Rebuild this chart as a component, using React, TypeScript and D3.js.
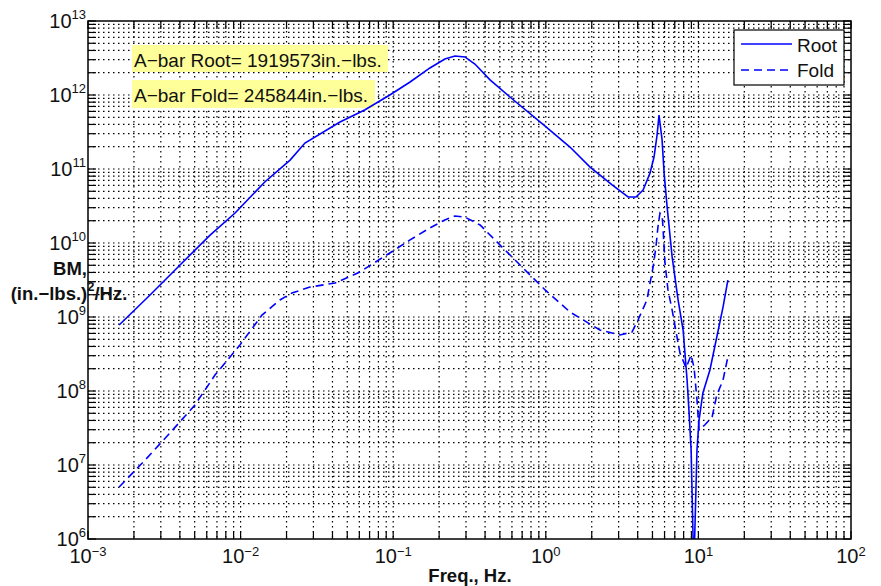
import React from "react";
import * as d3 from "d3";

const rootFreq = [1.6e-3, 2.55e-3, 4.01e-3, 6.31e-3, 9.2e-3, 1.44e-2, 2.11e-2, 2.64e-2, 4.48e-2, 6.5e-2, 9.5e-2, 0.129, 0.174, 0.218, 0.254, 0.295, 0.343, 0.431, 0.582, 0.99, 1.44, 1.95, 2.72, 3.46, 3.9, 4.34, 4.82, 5.12, 5.36, 5.52, 5.78, 5.96, 6.24, 6.73, 7.36, 7.94, 8.43, 8.69, 8.96, 9.23, 9.37, 9.79, 10.1, 10.7, 11.9, 13.2, 14.5, 15.6];
const rootBM = [7.8e8, 1.98e9, 5.05e9, 1.28e10, 2.54e10, 6.67e10, 1.32e11, 2.24e11, 4.32e11, 6.27e11, 1.0e12, 1.5e12, 2.32e12, 3.06e12, 3.37e12, 3.27e12, 2.62e12, 1.6e12, 9.4e11, 3.81e11, 1.98e11, 1.06e11, 6.08e10, 4.19e10, 4.19e10, 5.2e10, 8.83e10, 1.45e11, 2.88e11, 5.37e11, 2.47e11, 8.83e10, 3.06e10, 6.47e9, 1.7e9, 6.67e8, 1.41e8, 5.05e7, 1.6e7, 1.0e6, 5.2e5, 1.6e7, 4.06e7, 9.4e7, 1.92e8, 5.37e8, 1.36e9, 3.16e9];

const foldFreq = [1.6e-3, 2.37e-3, 3.44e-3, 5.02e-3, 6.79e-3, 9.9e-3, 1.38e-2, 1.81e-2, 2.17e-2, 2.85e-2, 4.16e-2, 6.05e-2, 9.5e-2, 0.129, 0.174, 0.218, 0.254, 0.295, 0.371, 0.501, 0.678, 0.99, 1.44, 2.26, 3.06, 3.67, 4.02, 4.6, 4.82, 5.05, 5.27, 5.43, 5.6, 5.78, 5.86, 6.04, 6.32, 6.73, 7.24, 7.57, 8.3, 8.96, 9.37, 9.79, 10.1, 11.0, 12.3, 13.2, 14.5, 15.6];
const foldBM = [5.05e6, 1.17e7, 2.7e7, 6.47e7, 1.64e8, 4.19e8, 1.06e9, 1.7e9, 2.11e9, 2.54e9, 2.88e9, 4.06e9, 7.33e9, 1.1e10, 1.6e10, 2.05e10, 2.32e10, 2.24e10, 1.75e10, 9.4e9, 5.05e9, 2.32e9, 1.17e9, 6.67e8, 5.71e8, 6.27e8, 9.1e8, 1.7e9, 2.88e9, 4.74e9, 8.83e9, 1.64e10, 2.54e10, 2.39e10, 1.64e10, 5.37e9, 2.32e9, 1.24e9, 5.37e8, 3.27e8, 2.05e8, 3.06e8, 2.05e8, 7.55e7, 2.97e7, 3.47e7, 4.46e7, 8.83e7, 1.41e8, 2.88e8];

const xTickExps = [-3, -2, -1, 0, 1, 2];
const yTickExps = [6, 7, 8, 9, 10, 11, 12, 13];
const legendLabels = ["Root", "Fold"];
const annotations = ["A\u2212bar Root= 1919573in.\u2212lbs.", "A\u2212bar Fold= 245844in.\u2212lbs."];

const W = 881, H = 586;
const L = 88, R = 851, T = 21, B = 539;
const FONT = "'Liberation Sans', Arial, Helvetica, sans-serif";

export default function App() {
  const x = d3.scaleLog().domain([1e-3, 1e2]).range([L, R]);
  const y = d3.scaleLog().domain([1e6, 1e13]).range([B, T]);
  const xt = x.ticks();
  const yt = y.ticks();

  const line = d3.line<[number, number]>().x(d => x(d[0])).y(d => y(d[1]));
  const rootPts = rootFreq.map((f, i) => [f, rootBM[i]] as [number, number]);
  const foldPts = foldFreq.map((f, i) => [f, foldBM[i]] as [number, number]);

  const tickLen = 8;

  return (
    <svg width={W} height={H} style={{ position: "absolute", left: 0, top: 0, background: "#fff" }} fontFamily={FONT}>
      <defs>
        <clipPath id="plotClip">
          <rect x={L} y={T} width={R - L} height={B - T} />
        </clipPath>
      </defs>
      <rect x={0} y={0} width={W} height={H} fill="#fff" />
      {/* grid */}
      <g stroke="#000" strokeWidth={1.2} strokeDasharray="1.5,3.5">
        {xt.filter(v => x(v) > L + 0.5 && x(v) < R - 0.5).map((v, i) => (
          <line key={"gx" + i} x1={x(v)} x2={x(v)} y1={T} y2={B} />
        ))}
        {yt.filter(v => y(v) > T + 0.5 && y(v) < B - 0.5).map((v, i) => (
          <line key={"gy" + i} x1={L} x2={R} y1={y(v)} y2={y(v)} />
        ))}
      </g>
      {/* ticks */}
      <g stroke="#000" strokeWidth={1.2}>
        {xt.map((v, i) => (
          <g key={"tx" + i}>
            <line x1={x(v)} x2={x(v)} y1={B} y2={B - tickLen} />
            <line x1={x(v)} x2={x(v)} y1={T} y2={T + tickLen} />
          </g>
        ))}
        {yt.map((v, i) => (
          <g key={"ty" + i}>
            <line x1={L} x2={L + tickLen} y1={y(v)} y2={y(v)} />
            <line x1={R} x2={R - tickLen} y1={y(v)} y2={y(v)} />
          </g>
        ))}
      </g>
      {/* annotations */}
      <rect x={132} y={45} width={256} height={27} fill="#ffff99" />
      <text x={134} y={67} fontSize={19} fill="#111">{annotations[0]}</text>
      <rect x={132} y={80} width={243} height={28} fill="#ffff99" />
      <text x={134} y={102} fontSize={19} fill="#111">{annotations[1]}</text>
      {/* data */}
      <g clipPath="url(#plotClip)" fill="none" stroke="#0000ff" strokeWidth={1.6}>
        <path d={line(rootPts) || ""} />
        <path d={line(foldPts) || ""} strokeDasharray="8,5" />
      </g>
      {/* box */}
      <rect x={L} y={T} width={R - L} height={B - T} fill="none" stroke="#000" strokeWidth={1.5} />
      {/* x tick labels */}
      {xTickExps.map(e => (
        <text key={"xl" + e} x={x(Math.pow(10, e))} y={563} fontSize={20} textAnchor="middle" fill="#111">
          10<tspan dy={-7} fontSize={13}>{e < 0 ? "\u2212" + Math.abs(e) : String(e)}</tspan>
        </text>
      ))}
      {/* y tick labels */}
      {yTickExps.map(e => (
        <text key={"yl" + e} x={86} y={y(Math.pow(10, e)) + 7} fontSize={20} textAnchor="end" fill="#111">
          10<tspan dy={-9} fontSize={13}>{String(e)}</tspan>
        </text>
      ))}
      {/* axis labels */}
      <text x={470} y={582} fontSize={18.5} fontWeight="bold" textAnchor="middle" fill="#111">Freq., Hz.</text>
      <text x={70} y={275} fontSize={18.5} fontWeight="bold" textAnchor="middle" fill="#111">BM,</text>
      <text x={69} y={300} fontSize={18.5} fontWeight="bold" textAnchor="middle" fill="#111">
        (in.{"\u2212"}lbs.)<tspan dy={-9} fontSize={13}>2</tspan><tspan dy={9}>/Hz.</tspan>
      </text>
      {/* legend */}
      <rect x={734} y={30} width={110} height={55} fill="#fff" stroke="#000" strokeWidth={1.2} />
      <line x1={741} x2={792} y1={44} y2={44} stroke="#0000ff" strokeWidth={1.6} />
      <text x={797} y={52} fontSize={19} fill="#111">{legendLabels[0]}</text>
      <line x1={741} x2={792} y1={70} y2={70} stroke="#0000ff" strokeWidth={1.6} strokeDasharray="8,5" />
      <text x={797} y={77} fontSize={19} fill="#111">{legendLabels[1]}</text>
    </svg>
  );
}
